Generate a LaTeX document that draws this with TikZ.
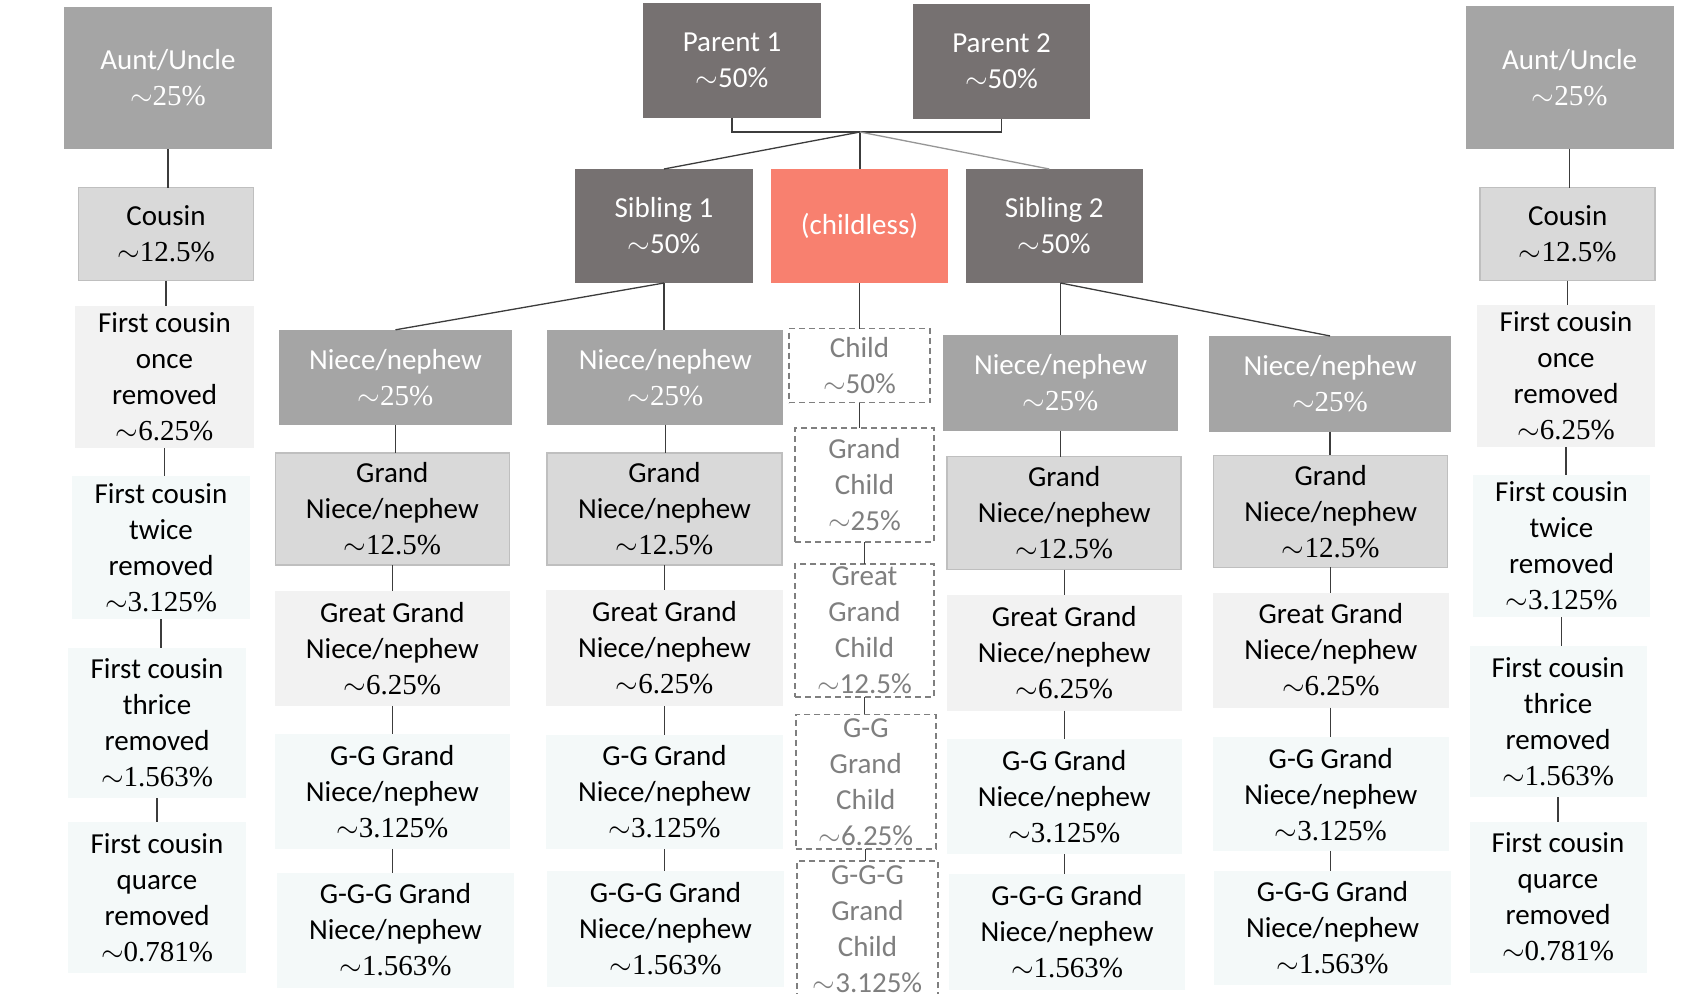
\RequirePackage{fix-cm}
\documentclass[tikz,border=0pt]{standalone}
\usepackage{fontspec}
\setmainfont{Carlito}
\newfontfamily\numf{Liberation Serif}
\definecolor{cdark}{RGB}{118,113,113}
\definecolor{cmid}{RGB}{165,165,165}
\definecolor{clight}{RGB}{217,217,217}
\definecolor{cborder}{RGB}{191,191,191}
\definecolor{cxl}{RGB}{242,242,242}
\definecolor{ccy}{RGB}{244,249,249}
\definecolor{csal}{RGB}{248,128,111}
\definecolor{cgray}{RGB}{127,127,127}
\definecolor{cline}{RGB}{60,60,60}
\definecolor{clinel}{RGB}{150,150,150}
\newcommand\pc[1]{${\sim}${\numf#1\%}}
\newcommand\ps[1]{${\sim}$#1\%}
\newcommand\pbox[7]{\node[#1,minimum width=#5pt,minimum height=#6pt] (#2) at (#3,#4) {};
  \node[#1txt] (#2t) at (#2.center) {#7};}
\tikzset{
  box/.style={rectangle, inner sep=0pt, outer sep=0pt},
  dk/.style={box, fill=cdark},
  md/.style={box, fill=cmid},
  lt/.style={box, fill=clight, draw=cborder, line width=1.5pt},
  xl/.style={box, fill=cxl},
  cy/.style={box, fill=ccy},
  sal/.style={box, fill=csal},
  dsh/.style={box, draw=cgray, line width=1.6pt, dash pattern=on 6pt off 4pt},
  txt/.style={inner sep=0pt, align=center, font=\fontsize{29}{36}\selectfont},
  dktxt/.style={txt, text=white},
  mdtxt/.style={txt, text=white},
  saltxt/.style={txt, text=white},
  lttxt/.style={txt, text=black},
  xltxt/.style={txt, text=black},
  cytxt/.style={txt, text=black},
  dshtxt/.style={txt, text=cgray},
  conn/.style={draw=cline, line width=1.3pt},
  connl/.style={draw=clinel, line width=1.3pt},
}
\begin{document}
\begin{tikzpicture}[x=1pt,y=-1pt]
\useasboundingbox (0,0) rectangle (1688,993);
\fill[white] (0,0) rectangle (1688,993);
\clip (0,0) rectangle (1688,993);
% left cousin column
\pbox{md}{auL}{168}{78}{208}{142}{Aunt/Uncle\\\pc{25}}
\pbox{lt}{cuL}{166}{234}{175}{93}{Cousin\\\pc{12.5}}
\pbox{xl}{fcaL}{164.5}{377}{179}{142}{First cousin\\once\\removed\\\pc{6.25}}
\pbox{cy}{fcbL}{161}{547.5}{178}{143}{First cousin\\twice\\removed\\\pc{3.125}}
\pbox{cy}{fccL}{157}{723}{178}{150}{First cousin\\thrice\\removed\\\pc{1.563}}
\pbox{cy}{fcdL}{157}{897.5}{178}{151}{First cousin\\quarce\\removed\\\pc{0.781}}
% right cousin column
\pbox{md}{auR}{1569.6}{77.2}{208}{143}{Aunt/Uncle\\\pc{25}}
\pbox{lt}{cuR}{1567.7}{234}{175}{93}{Cousin\\\pc{12.5}}
\pbox{xl}{fcaR}{1566}{376}{178.5}{142}{First cousin\\once\\removed\\\pc{6.25}}
\pbox{cy}{fcbR}{1561.5}{546}{177}{142}{First cousin\\twice\\removed\\\pc{3.125}}
\pbox{cy}{fccR}{1558}{721.5}{177}{151}{First cousin\\thrice\\removed\\\pc{1.563}}
\pbox{cy}{fcdR}{1558}{897}{177}{151}{First cousin\\quarce\\removed\\\pc{0.781}}
% top
\pbox{dk}{pa}{732}{60.5}{178}{115}{Parent 1\\\ps{50}}
\pbox{dk}{pb}{1001.5}{61.5}{177}{115}{Parent 2\\\ps{50}}
\pbox{dk}{sa}{664}{226}{178}{114}{Sibling 1\\\ps{50}}
\pbox{sal}{cl}{859.5}{226}{177}{114}{(childless)}
\pbox{dk}{sb}{1054.3}{226}{177}{114}{Sibling 2\\\ps{50}}
% column 1
\pbox{md}{na}{395.5}{377.3}{233}{95}{Niece/nephew\\\pc{25}}
\pbox{lt}{gna}{392.3}{509}{234}{112}{Grand\\Niece/nephew\\\pc{12.5}}
\pbox{xl}{ggna}{392.3}{648.3}{235.4}{115}{Great Grand\\Niece/nephew\\\pc{6.25}}
\pbox{cy}{gggna}{392.3}{791.7}{235.4}{114.5}{G-G Grand\\Niece/nephew\\\pc{3.125}}
\pbox{cy}{ggggna}{395.5}{930}{237}{115}{G-G-G Grand\\Niece/nephew\\\pc{1.563}}
% column 2
\pbox{md}{nb}{665.3}{377.3}{236}{94.6}{Niece/nephew\\\pc{25}}
\pbox{lt}{gnb}{664.5}{508.8}{235}{112}{Grand\\Niece/nephew\\\pc{12.5}}
\pbox{xl}{ggnb}{664.5}{648}{237}{116}{Great Grand\\Niece/nephew\\\pc{6.25}}
\pbox{cy}{gggnb}{664.5}{792}{237}{114.6}{G-G Grand\\Niece/nephew\\\pc{3.125}}
\pbox{cy}{ggggnb}{665.5}{929}{237}{116}{G-G-G Grand\\Niece/nephew\\\pc{1.563}}
% child column (dashed)
\pbox{dsh}{ca}{859.5}{365.6}{141}{74}{Child\\\ps{50}}
\pbox{dsh}{cb}{864.5}{485}{139}{114}{Grand\\Child\\\ps{25}}
\pbox{dsh}{cc}{864.5}{630.5}{139}{133}{Great\\Grand\\Child\\\ps{12.5}}
\pbox{dsh}{cd}{865.8}{781.7}{140}{134.5}{G-G\\Grand\\Child\\\ps{6.25}}
\pbox{dsh}{ce}{867.5}{929}{141}{136}{G-G-G\\Grand\\Child\\\ps{3.125}}
% column 3
\pbox{md}{nc}{1060.5}{383}{235}{96.5}{Niece/nephew\\\pc{25}}
\pbox{lt}{gnc}{1064.2}{513}{234}{113}{Grand\\Niece/nephew\\\pc{12.5}}
\pbox{xl}{ggnc}{1064.2}{652.6}{235}{116}{Great Grand\\Niece/nephew\\\pc{6.25}}
\pbox{cy}{gggnc}{1064.2}{796.7}{235}{114.7}{G-G Grand\\Niece/nephew\\\pc{3.125}}
\pbox{cy}{ggggnc}{1067}{931.7}{236}{116}{G-G-G Grand\\Niece/nephew\\\pc{1.563}}
% column 4
\pbox{md}{nd}{1330}{383.8}{242}{95.7}{Niece/nephew\\\pc{25}}
\pbox{lt}{gnd}{1330.7}{511.3}{234}{112}{Grand\\Niece/nephew\\\pc{12.5}}
\pbox{xl}{ggnd}{1330.8}{650}{235.6}{115}{Great Grand\\Niece/nephew\\\pc{6.25}}
\pbox{cy}{gggnd}{1330.8}{794.2}{235.6}{113.5}{G-G Grand\\Niece/nephew\\\pc{3.125}}
\pbox{cy}{ggggnd}{1332.5}{928}{237}{114}{G-G-G Grand\\Niece/nephew\\\pc{1.563}}
% connectors
\draw[conn] (pa.south) -- ++(0,14) -| (pb.south);
\coordinate (J) at (860,132);
\draw[conn] (J) -- (sa.north);
\draw[conn] (J) -- (J |- cl.north);
\draw[connl] (J) -- ([xshift=-5pt]sb.north);
\draw[conn] (sa.south) -- (na.north);
\draw[conn] (sa.south) -- (sa.south |- nb.north);
\draw[conn] (cl.south) -- (cl.south |- ca.north);
\draw[conn] (nc.north |- sb.south) -- (nc.north);
\draw[conn] (nc.north |- sb.south) -- (nd.north);
\foreach \a/\b in {auL/cuL,cuL/fcaL,fcaL/fcbL,fcbL/fccL,fccL/fcdL,
  auR/cuR,cuR/fcaR,fcaR/fcbR,fcbR/fccR,fccR/fcdR,
  na/gna,gna/ggna,ggna/gggna,gggna/ggggna,
  nb/gnb,gnb/ggnb,ggnb/gggnb,gggnb/ggggnb,
  ca/cb,cb/cc,cc/cd,cd/ce,
  nc/gnc,gnc/ggnc,ggnc/gggnc,gggnc/ggggnc,
  nd/gnd,gnd/ggnd,ggnd/gggnd,gggnd/ggggnd}
  \draw[conn] (\a.south) -- (\a.south |- \b.north);
\end{tikzpicture}
\end{document}
